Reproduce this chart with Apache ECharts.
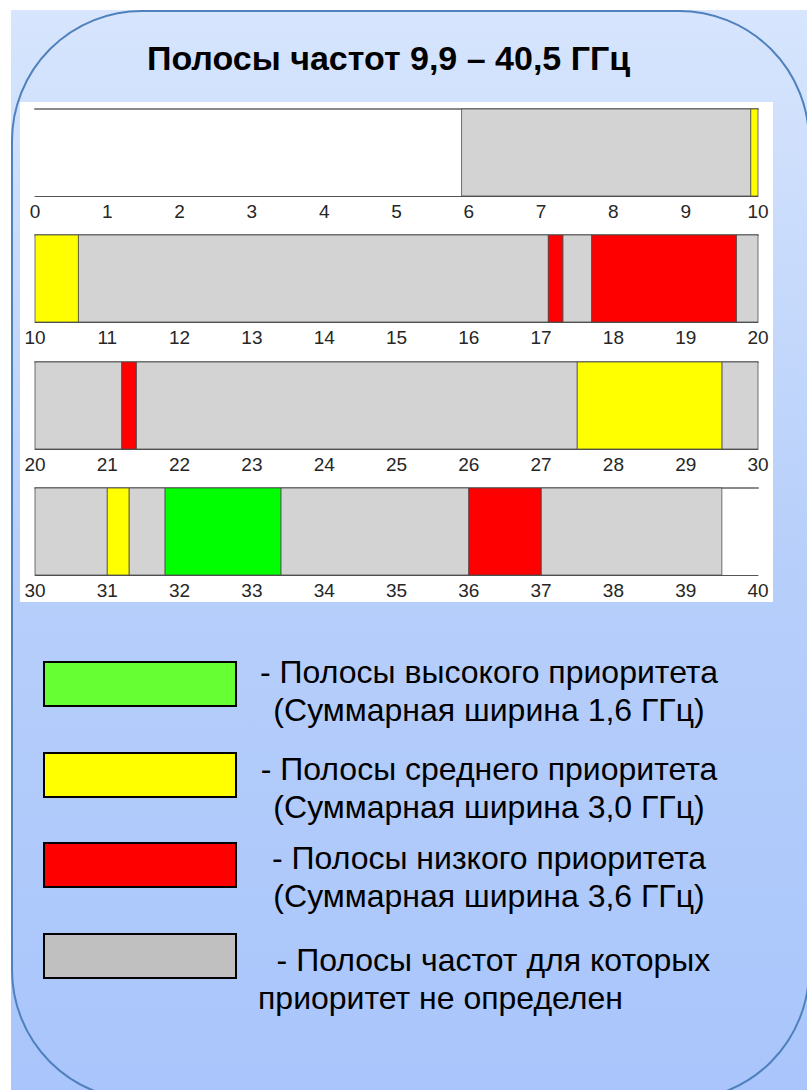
<!DOCTYPE html>
<html>
<head>
<meta charset="utf-8">
<title>Полосы частот 9,9 – 40,5 ГГц</title>
<style>
  html, body { margin: 0; padding: 0; background: #fff; }
  #chart { width: 807px; height: 1090px; }
</style>
</head>
<body>
<div id="chart"></div>
<script src="https://cdn.jsdelivr.net/npm/echarts@6/dist/echarts.min.js"></script>
<script>
// each row of the chart covers 10 GHz
const rowStarts = [0, 10, 20, 30]
const rowWidth = 10
const tickStep = 1

// bands by priority, [from, to] in GHz
const highBands = [[31.8, 33.4]]
const mediumBands = [[9.9, 10.6], [27.5, 29.5], [31.0, 31.3]]
const lowBands = [[17.1, 17.3], [17.7, 19.7], [21.2, 21.4], [36.0, 37.0]]
const undefinedBands = [[5.9, 9.9], [10.6, 17.1], [17.3, 17.7], [19.7, 21.2], [21.4, 27.5],
  [29.5, 31.0], [31.3, 31.8], [33.4, 36.0], [37.0, 39.5]]

const seriesNames = [
  'Полосы высокого приоритета',
  'Полосы среднего приоритета',
  'Полосы низкого приоритета',
  'Полосы частот для которых приоритет не определен'
]
const legendLines = [
  ['- Полосы высокого приоритета', '(Суммарная ширина 1,6 ГГц)'],
  ['- Полосы среднего приоритета', '(Суммарная ширина 3,0 ГГц)'],
  ['- Полосы низкого приоритета', '(Суммарная ширина 3,6 ГГц)'],
  [' - Полосы частот для которых', 'приоритет не определен']
]
const bandSets = [highBands, mediumBands, lowBands, undefinedBands]

const barColors = ['#00ff00', '#ffff00', '#ff0000', '#d3d3d3']
const legendColors = ['#66ff33', '#ffff00', '#ff0000', '#c0c0c0']
const font = "'Liberation Sans', Arial, sans-serif"

// layout
const rowTops = [109, 235, 362, 488]
const rowHeight = 87
const legendCenters = [684, 775, 865, 956]
const legendTextShift = [14, 25, 24, 46]

function clipToRow(bands, start) {
  return bands
    .filter(b => b[1] > start && b[0] < start + rowWidth)
    .map(b => [Math.max(b[0], start), Math.min(b[1], start + rowWidth)])
}

function renderBand(params, api) {
  const p0 = api.coord([api.value(0), 1])
  const p1 = api.coord([api.value(1), 0])
  return {
    type: 'rect',
    shape: { x: p0[0], y: p0[1], width: p1[0] - p0[0], height: p1[1] - p0[1] },
    style: { fill: api.visual('color'), stroke: 'rgba(70,70,70,0.75)', lineWidth: 1 }
  }
}

const grids = []
const xAxes = []
const yAxes = []
const series = []

rowStarts.forEach((start, r) => {
  grids.push({ left: 35, right: 49, top: rowTops[r], height: rowHeight })
  yAxes.push({ gridIndex: r, type: 'value', min: 0, max: 1, show: false })
  xAxes.push({
    gridIndex: r,
    type: 'value',
    min: start,
    max: start + rowWidth,
    interval: tickStep,
    axisLine: { lineStyle: { color: '#555', width: 1 } },
    axisTick: { show: false },
    splitLine: { show: false },
    axisLabel: { margin: 6, fontSize: 19, color: '#262626', fontFamily: font }
  })
})
// top border line of every row
rowStarts.forEach((start, r) => {
  xAxes.push({
    gridIndex: r,
    type: 'value',
    position: 'top',
    min: start,
    max: start + rowWidth,
    axisLine: { lineStyle: { color: '#8a8a8a', width: 2 } },
    axisTick: { show: false },
    axisLabel: { show: false },
    splitLine: { show: false }
  })
})

// grey first, coloured bands over it
;[3, 0, 1, 2].forEach(p => {
  rowStarts.forEach((start, r) => {
    series.push({
      type: 'custom',
      name: seriesNames[p],
      xAxisIndex: r,
      yAxisIndex: r,
      color: barColors[p],
      renderItem: renderBand,
      encode: { x: [0, 1] },
      data: clipToRow(bandSets[p], start)
    })
  })
})

const legends = seriesNames.map((name, i) => {
  const pad = [legendTextShift[i], 0, 0, 0]
  return {
    data: [{
      name: name,
      icon: 'rect',
      itemStyle: { color: legendColors[i], borderColor: '#000', borderWidth: 2 }
    }],
    left: 43,
    top: legendCenters[i] - 38 - (legendTextShift[i] - 6) / 2,
    padding: 0,
    itemWidth: 192,
    itemHeight: 44,
    selectedMode: false,
    formatter: n => {
      const lines = legendLines[seriesNames.indexOf(n)]
      const second = i === 3 ? 'l' : 'c'
      return '{c|' + lines[0] + '}\n{' + second + '|' + lines[1] + '}'
    },
    textStyle: {
      rich: {
        c: { fontSize: 32, lineHeight: 38, width: 496, align: 'center', color: '#000', fontFamily: font, padding: pad },
        l: { fontSize: 32, lineHeight: 38, align: 'left', color: '#000', fontFamily: font, padding: [pad[0], 0, 0, 17] }
      }
    }
  }
})

const chart = echarts.init(document.getElementById('chart'), null, { renderer: 'svg' })
chart.setOption({
  animation: false,
  title: {
    text: 'Полосы частот 9,9 – 40,5 ГГц',
    left: 147,
    top: 41,
    padding: 0,
    textStyle: { fontSize: 34, fontWeight: 'bold', color: '#000', fontFamily: font }
  },
  graphic: [
    {
      type: 'rect', z: -30, silent: true,
      shape: { x: 11, y: 10, width: 796, height: 1080 },
      style: {
        fill: {
          type: 'linear', x: 0, y: 0, x2: 0, y2: 1,
          colorStops: [
            { offset: 0, color: '#d7e5fd' },
            { offset: 0.5, color: '#b7cffa' },
            { offset: 1, color: '#a9c5fb' }
          ]
        }
      }
    },
    {
      type: 'rect', z: -29, silent: true,
      shape: { x: 12, y: 11, width: 797, height: 1089, r: 130 },
      style: { fill: 'none', stroke: '#4f81bd', lineWidth: 2 }
    },
    {
      type: 'rect', z: -28, silent: true,
      shape: { x: 20, y: 102, width: 753, height: 500 },
      style: { fill: '#fff' }
    }
  ],
  legend: legends,
  grid: grids,
  xAxis: xAxes,
  yAxis: yAxes,
  series: series
})
</script>
</body>
</html>
